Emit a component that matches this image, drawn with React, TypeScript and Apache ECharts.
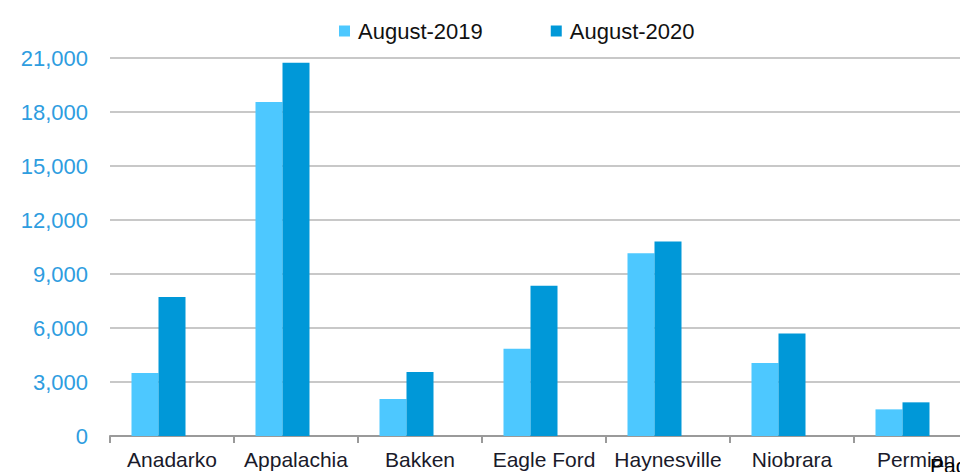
import React, { useEffect, useRef } from "react";
import * as echarts from "echarts";

const categories = ["Anadarko", "Appalachia", "Bakken", "Eagle Ford", "Haynesville", "Niobrara", "Permian"];
const aug2019 = [3500, 18550, 2050, 4850, 10150, 4050, 1480];
const aug2020 = [7720, 20740, 3550, 8350, 10800, 5700, 1870];
const emptySlot = [null, null, null, null, null, null, null];
const seriesNames = ["August-2019", "August-2020"];
const yTicks = { min: 0, max: 21000, interval: 3000 };

export default function App() {
  const ref = useRef<HTMLDivElement>(null);
  useEffect(() => {
    const chart = echarts.init(ref.current!, null, { renderer: "svg" });
    const font = "'Liberation Sans', Arial, sans-serif";
    chart.setOption({
      animation: false,
      backgroundColor: "#ffffff",
      legend: {
        data: seriesNames,
        left: 334,
        top: 15,
        icon: "rect",
        itemWidth: 11,
        itemHeight: 11,
        itemGap: 68,
        textStyle: { fontFamily: font, fontSize: 22, color: "#111111", padding: [0, 0, 0, 3] },
      },
      grid: { left: 110, top: 58, bottom: 36, width: 868, containLabel: false },
      xAxis: {
        type: "category",
        data: categories,
        axisLine: { lineStyle: { color: "#9a9a9a", width: 2 } },
        axisTick: { show: true, alignWithLabel: false, length: 7, lineStyle: { color: "#9a9a9a", width: 2 } },
        axisLabel: { fontFamily: font, fontSize: 21, color: "#1a1a2a", margin: 13, interval: 0 },
      },
      yAxis: {
        type: "value",
        min: yTicks.min,
        max: yTicks.max,
        interval: yTicks.interval,
        axisLine: { show: false },
        axisTick: { show: false },
        splitLine: { lineStyle: { color: "#c8c8c8", width: 2 } },
        axisLabel: {
          fontFamily: font,
          fontSize: 22,
          color: "#2e9ddf",
          margin: 22,
          formatter: (v: number) => v.toLocaleString("en-US"),
        },
      },
      series: [
        {
          name: seriesNames[0],
          type: "bar",
          data: aug2019,
          barWidth: 27,
          barGap: "0%",
          itemStyle: { color: "#4dc8ff" },
        },
        {
          name: seriesNames[1],
          type: "bar",
          data: aug2020,
          barWidth: 27,
          barGap: "0%",
          itemStyle: { color: "#0098d8" },
        },
        {
          name: "blank",
          type: "bar",
          data: emptySlot,
          barWidth: 27,
          barGap: "0%",
          itemStyle: { color: "transparent" },
        },
      ],
      graphic: [
        {
          type: "text",
          left: 930,
          top: 455,
          style: { text: "Page", fontFamily: font, fontSize: 21, fill: "#000000" },
          z: 100,
        },
      ],
    });
    return () => chart.dispose();
  }, []);
  return <div ref={ref} style={{ width: 980, height: 472, position: "fixed", left: 0, top: 0 }} />;
}
